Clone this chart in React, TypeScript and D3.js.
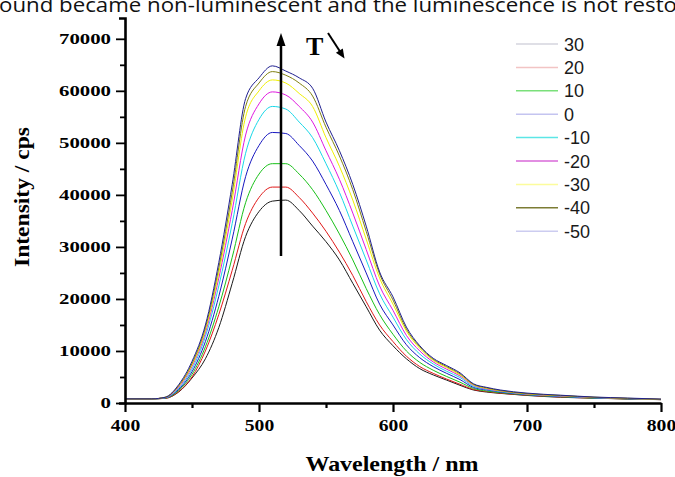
import React, { useEffect, useRef } from 'react';
import * as d3 from 'd3';

const W = 675;
const H = 477;

const wavelengths = [400, 420, 430, 440, 450, 460, 470, 480, 490, 500, 510, 520, 530, 540, 550, 560, 570, 580, 590, 600, 610, 620, 630, 640, 650, 660, 670, 680, 700, 725, 750, 775, 800];

const temps = ['30', '20', '10', '0', '-10', '-20', '-30', '-40', '-50'];

const s30 = [800, 800, 900, 2100, 4800, 8500, 14500, 23000, 32000, 36800, 38800, 39000, 37000, 34000, 31000, 27500, 23000, 18500, 14000, 11000, 8500, 6600, 5400, 4400, 3400, 2500, 2100, 1850, 1450, 1100, 930, 770, 640];
const s20 = [800, 800, 900, 2200, 5000, 10000, 17000, 25500, 34500, 39500, 41500, 41500, 39500, 36500, 33000, 29000, 24500, 19500, 15000, 11800, 9000, 7000, 5700, 4600, 3600, 2600, 2200, 1900, 1500, 1150, 950, 780, 650];
const s10 = [800, 800, 950, 2400, 5500, 10800, 18500, 28000, 38500, 44000, 46000, 46000, 44000, 41000, 37000, 32500, 27500, 22000, 17000, 13200, 10000, 7800, 6300, 5100, 4000, 2800, 2300, 2000, 1550, 1200, 950, 800, 660];
const s0 = [800, 800, 1000, 2600, 6000, 11800, 20500, 31500, 43500, 49500, 52000, 51800, 49500, 46500, 42000, 37000, 31000, 25000, 19000, 15000, 11200, 8700, 7000, 5700, 4500, 3000, 2500, 2100, 1600, 1250, 1000, 820, 670];
const sm10 = [800, 800, 1000, 2800, 6500, 12800, 22500, 34500, 48000, 54500, 57000, 56500, 54000, 51000, 46000, 40500, 34000, 27500, 21000, 16500, 12200, 9400, 7500, 6100, 4900, 3200, 2600, 2200, 1650, 1300, 1000, 840, 680];
const sm20 = [800, 800, 1050, 3000, 7000, 13500, 24000, 37000, 51500, 57500, 59800, 59200, 57000, 54000, 48500, 43000, 36500, 29500, 22500, 17800, 13000, 10000, 7900, 6500, 5200, 3400, 2700, 2300, 1700, 1350, 1050, 860, 700];
const sm30 = [800, 800, 1100, 3200, 7300, 14000, 25000, 39000, 55000, 60000, 62100, 61500, 59500, 57000, 51000, 45500, 39000, 31500, 24000, 19000, 13800, 10500, 8200, 6800, 5400, 3500, 2800, 2350, 1750, 1400, 1100, 880, 700];
const sm40 = [800, 800, 1100, 3300, 7600, 14500, 26000, 40500, 57000, 61500, 63700, 63000, 61500, 59000, 53000, 47500, 41000, 33000, 24800, 19800, 14200, 10800, 8400, 7000, 5600, 3600, 2900, 2400, 1800, 1450, 1100, 900, 720];
const sm50 = [800, 800, 1100, 3500, 8000, 15000, 27000, 42000, 58500, 62500, 64800, 63800, 62500, 60500, 54000, 48500, 42000, 34000, 25200, 20400, 14600, 11000, 8600, 7200, 5800, 3700, 3000, 2500, 1900, 1500, 1150, 950, 750];

const series = [s30, s20, s10, s0, sm10, sm20, sm30, sm40, sm50];

const lineColors = ['#1a1a1a', '#e01818', '#18c018', '#1818c0', '#18d8e8', '#e018e0', '#f0f000', '#808010', '#202090'];
const legendColors = ['#d4d4de', '#f2c4c4', '#7ae07a', '#c4c4f0', '#5ce6e6', '#d868d8', '#fcfc9c', '#7c7c34', '#ccccf0'];

const xMajor = [400, 500, 600, 700, 800];
const xMinor = [450, 550, 650, 750];
const yMajor = [0, 10000, 20000, 30000, 40000, 50000, 60000, 70000];
const yMinor = [5000, 15000, 25000, 35000, 45000, 55000, 65000];

const serif = "'Liberation Serif', 'Times New Roman', serif";
const sans = "'Liberation Sans', Arial, sans-serif";

export default function App() {
  const xRef = useRef<SVGGElement>(null);
  const yRef = useRef<SVGGElement>(null);

  const x = d3.scaleLinear().domain([400, 800]).range([125, 661]);
  const y = d3.scaleLinear().domain([0, 74000]).range([403, 18]);

  const line = d3
    .line<number>()
    .x((_, i) => x(wavelengths[i]))
    .y((d) => y(d))
    .curve(d3.curveMonotoneX);

  useEffect(() => {
    const gx = d3.select(xRef.current!);
    gx.selectAll('*').remove();
    const major = gx.append('g').call(
      d3.axisBottom(x).tickValues(xMajor).tickSize(9).tickSizeOuter(0).tickPadding(8).tickFormat(d3.format('d'))
    );
    major.select('.domain').attr('stroke-width', 2.6);
    major.selectAll('.tick line').attr('stroke-width', 2.2);
    major
      .selectAll<SVGTextElement, number>('.tick text')
      .attr('font-family', serif)
      .attr('font-weight', 'bold')
      .attr('font-size', 16)
      .attr('fill', '#000')
      .attr('textLength', (d) => String(d).length * 9.8)
      .attr('lengthAdjust', 'spacingAndGlyphs');
    const minor = gx.append('g').call(d3.axisBottom(x).tickValues(xMinor).tickSize(5).tickFormat(() => ''));
    minor.select('.domain').remove();
    minor.selectAll('.tick line').attr('stroke-width', 2.2);

    const gy = d3.select(yRef.current!);
    gy.selectAll('*').remove();
    const ymaj = gy.append('g').call(
      d3.axisLeft(y).tickValues(yMajor).tickSize(9).tickSizeOuter(6).tickPadding(5).tickFormat(d3.format('d'))
    );
    ymaj.select('.domain').attr('stroke-width', 2.6);
    ymaj.selectAll('.tick line').attr('stroke-width', 1.8);
    ymaj
      .selectAll<SVGTextElement, number>('.tick text')
      .attr('font-family', serif)
      .attr('font-weight', 'bold')
      .attr('font-size', 15)
      .attr('fill', '#000')
      .attr('textLength', (d) => String(d).length * 10.4)
      .attr('lengthAdjust', 'spacingAndGlyphs');
    const ymin = gy.append('g').call(d3.axisLeft(y).tickValues(yMinor).tickSize(5).tickFormat(() => ''));
    ymin.select('.domain').remove();
    ymin.selectAll('.tick line').attr('stroke-width', 1.8);
  }, []);

  return (
    <svg
      width={W}
      height={H}
      viewBox={`0 0 ${W} ${H}`}
      style={{ position: 'absolute', left: 0, top: 0, background: '#fff' }}
    >
      <rect x={0} y={0} width={W} height={H} fill="#fff" />
      <text
        x={-1}
        y={12}
        fontFamily="'Open Sans', 'Noto Sans', sans-serif"
        fontSize={20}
        fill="#111"
        textLength={678}
        lengthAdjust="spacingAndGlyphs"
      >
        ound became non-luminescent and the luminescence is not resto
      </text>

      {series.map((s, i) => (
        <path key={temps[i]} d={line(s) || ''} fill="none" stroke={lineColors[i]} strokeWidth={1} />
      ))}

      <g ref={xRef} transform={`translate(0,${y(0)})`} />
      <g ref={yRef} transform={`translate(${x(400)},0)`} />

      {/* arrow */}
      <line x1={281} y1={256} x2={281} y2={44} stroke="#000" strokeWidth={2.5} />
      <polygon points="281,33 276.5,46 285.5,46" fill="#000" />
      <text x={306} y={55} fontFamily={serif} fontWeight="bold" fontSize={26} fill="#000">
        T
      </text>
      <line x1={328} y1={33} x2={340} y2={51.5} stroke="#000" strokeWidth={2} />
      <polygon points="344.5,58.5 342.8,48.4 335.9,52.7" fill="#000" />

      {/* legend */}
      {temps.map((t, i) => {
        const ly = 44 + i * 23.4;
        return (
          <g key={t}>
            <line x1={516} x2={558} y1={ly} y2={ly} stroke={legendColors[i]} strokeWidth={1.5} />
            <text x={564} y={ly + 6.5} fontFamily={sans} fontSize={18} fill="#1a1a1a">
              {t}
            </text>
          </g>
        );
      })}

      <text
        x={392}
        y={471}
        textAnchor="middle"
        fontFamily={serif}
        fontWeight="bold"
        fontSize={22}
        fill="#000"
        textLength={173}
        lengthAdjust="spacingAndGlyphs"
      >
        Wavelength / nm
      </text>
      <text
        transform="translate(29,197) rotate(-90)"
        textAnchor="middle"
        fontFamily={serif}
        fontWeight="bold"
        fontSize={22}
        fill="#000"
        textLength={140}
        lengthAdjust="spacingAndGlyphs"
      >
        Intensity / cps
      </text>
    </svg>
  );
}
